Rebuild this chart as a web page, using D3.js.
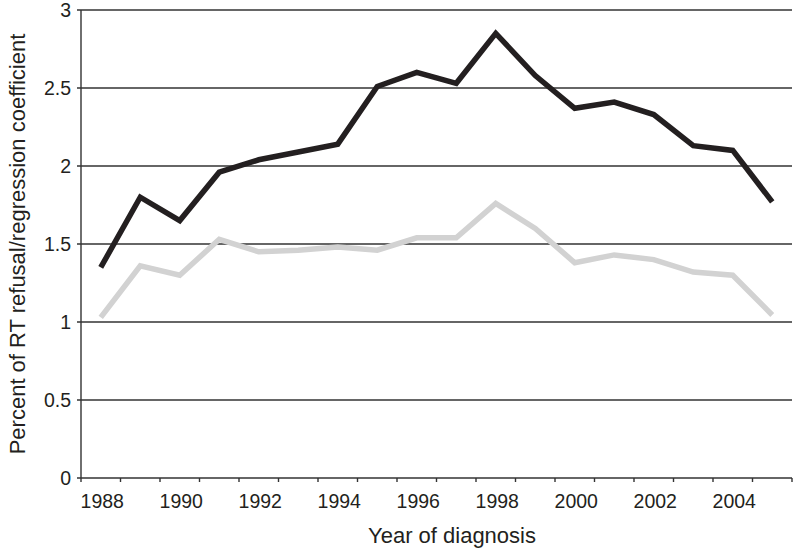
<html>

<head>
    <style>
        body { margin: 0; background: #fff; }
        text { font-family: "Liberation Sans", Arial, sans-serif; fill: #231f20; }
    </style>
</head>

<body>
    <svg id="container" height="554" width="800">
        <g id="body"></g>
    </svg>
</body>
<script src="https://cdn.jsdelivr.net/npm/d3@7"></script>
<script>
    // years of diagnosis, one point per year
    let years = [1988, 1989, 1990, 1991, 1992, 1993, 1994, 1995, 1996,
                 1997, 1998, 1999, 2000, 2001, 2002, 2003, 2004, 2005]
    // dark series (percent of RT refusal/regression coefficient)
    let darkValues = [1.35, 1.80, 1.65, 1.96, 2.04, 2.09, 2.14, 2.51, 2.60,
                      2.53, 2.85, 2.58, 2.37, 2.41, 2.33, 2.13, 2.10, 1.77]
    // light grey series
    let greyValues = [1.03, 1.36, 1.30, 1.53, 1.45, 1.46, 1.48, 1.46, 1.54,
                      1.54, 1.76, 1.60, 1.38, 1.43, 1.40, 1.32, 1.30, 1.045]
    let yTicks = [0, 0.5, 1, 1.5, 2, 2.5, 3]
    let xLabels = [1988, 1990, 1992, 1994, 1996, 1998, 2000, 2002, 2004]

    let body = d3.select("#body")

    let plotLeft = 81, plotRight = 792, plotTop = 10, plotBottom = 478

    let x = d3.scaleBand()
        .domain(years)
        .range([plotLeft, plotRight])
        .padding(0)

    let y = d3.scaleLinear()
        .domain([0, 3])
        .range([plotBottom, plotTop])

    // horizontal grid lines (with little tick on the left)
    body.selectAll("line.grid").data(yTicks)
        .enter().append("line")
        .attr("class", "grid")
        .attr("x1", plotLeft - 4)
        .attr("x2", plotRight)
        .attr("y1", d => y(d))
        .attr("y2", d => y(d))
        .attr("stroke", "#333")
        .attr("stroke-width", 1.4)

    // y axis line
    body.append("line")
        .attr("x1", plotLeft).attr("x2", plotLeft)
        .attr("y1", plotTop).attr("y2", plotBottom)
        .attr("stroke", "#333")
        .attr("stroke-width", 1.4)

    // y tick labels
    body.selectAll("text.ylab").data(yTicks)
        .enter().append("text")
        .attr("class", "ylab")
        .attr("x", plotLeft - 10)
        .attr("y", d => y(d))
        .attr("dy", "0.36em")
        .attr("text-anchor", "end")
        .style("font-size", "19.5px")
        .text(d => d)

    // x tick marks sit on the band edges
    let tickPos = years.map(d => x(d)).concat([plotRight])
    body.selectAll("line.xtick").data(tickPos)
        .enter().append("line")
        .attr("class", "xtick")
        .attr("x1", d => d).attr("x2", d => d)
        .attr("y1", plotBottom).attr("y2", plotBottom + 4)
        .attr("stroke", "#333")
        .attr("stroke-width", 1.4)

    body.selectAll("text.xlab").data(xLabels)
        .enter().append("text")
        .attr("class", "xlab")
        .attr("x", d => x(d) + x.bandwidth() / 2 + 1.5)
        .attr("y", 507.5)
        .attr("text-anchor", "middle")
        .style("font-size", "19.5px")
        .text(d => d)

    let line = d3.line()
        .x((d, i) => x(years[i]) + x.bandwidth() / 2)
        .y(d => y(d))

    body.append("path")
        .attr("d", line(greyValues))
        .attr("fill", "none")
        .attr("stroke", "#d2d2d2")
        .attr("stroke-width", 5.5)

    body.append("path")
        .attr("d", line(darkValues))
        .attr("fill", "none")
        .attr("stroke", "#231f20")
        .attr("stroke-width", 5.5)

    // axis titles
    body.append("text")
        .attr("x", 452)
        .attr("y", 542.5)
        .attr("text-anchor", "middle")
        .style("font-size", "22px")
        .text("Year of diagnosis")

    body.append("text")
        .attr("transform", "translate(24.5,244) rotate(-90)")
        .attr("text-anchor", "middle")
        .style("font-size", "22px")
        .text("Percent of RT refusal/regression coefficient")
</script>

</html>
